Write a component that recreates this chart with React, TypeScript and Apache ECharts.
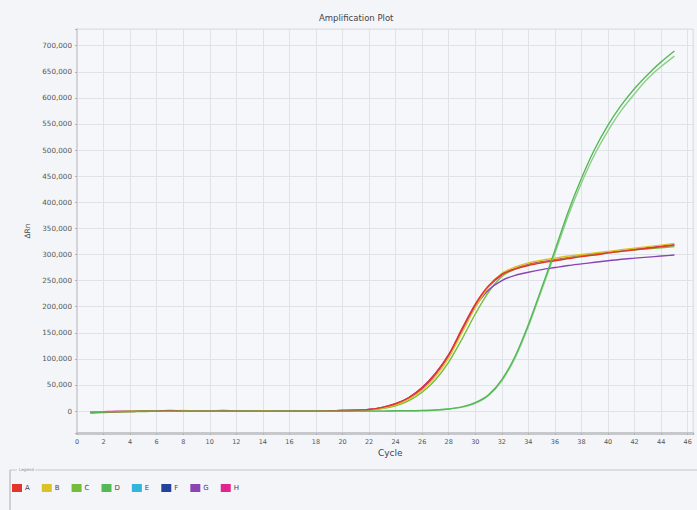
import React, { useEffect, useRef } from "react";
import * as echarts from "echarts";

const cycles = [1,2,3,4,5,6,7,8,9,10,11,12,13,14,15,16,17,18,19,20,21,22,23,24,25,26,27,28,29,30,31,32,33,34,35,36,37,38,39,40,41,42,43,44,45];

const seriesNames = ["A", "B", "C", "D", "E", "F", "G", "H"];
const seriesColors = ["#e4352b", "#dcc228", "#74bd3a", "#55b856", "#33b4dc", "#23429c", "#8a44b4", "#e0268e"];

const valuesA = [-3000,-2000,-1000,-1000,0,0,1000,0,0,0,0,0,0,0,0,0,0,0,500,1000,1500,3000,7000,14000,26000,45000,72000,108000,158000,205000,240000,262000,272000,279000,284000,288000,292000,296000,299000,303000,306000,309000,312000,315000,318000];
const valuesB = [-2000,-1000,-1000,0,0,0,0,1000,0,0,0,0,0,500,0,0,0,0,500,1000,1500,2500,6000,12000,23000,40000,66000,102000,150000,198000,238000,264000,276000,284000,289000,293000,297000,300000,303000,306000,309000,312000,315000,318000,321000];
const valuesC = [-4000,-3000,-2000,-1000,-1000,0,0,0,0,0,0,0,0,0,0,0,0,0,0,500,1000,2000,5000,10000,20000,36000,60000,94000,138000,186000,228000,258000,272000,280000,285000,289000,293000,297000,300000,303000,306000,309000,311000,313000,315000];
const valuesD = [-3000,-2000,-1000,-1000,0,0,0,0,0,0,0,0,0,0,0,0,0,0,0,0,0,0,0,500,500,1000,2000,4000,8000,16000,31000,60000,105000,166000,236000,308000,382000,446000,502000,548000,586000,618000,645000,669000,690000];
const valuesD2 = [-2000,-2000,-1000,0,0,0,0,0,0,0,0,0,0,0,0,0,0,0,0,0,0,0,0,0,500,1000,2000,4000,7500,15000,30000,58000,102000,162000,232000,302000,374000,437000,492000,537000,576000,608000,637000,660000,680000];
const valuesE: number[] = [];
const valuesF: number[] = [];
const valuesG = [-2000,-1000,-1000,0,0,0,0,0,0,0,1000,0,0,0,0,-500,0,0,500,1000,1500,3000,7000,14000,26000,45000,72000,108000,156000,200000,232000,250000,260000,266000,271000,275000,279000,282000,285000,288000,291000,293000,295000,297000,299000];
const valuesH = [-2000,-1000,0,0,0,0,0,0,0,0,0,0,0,0,0,0,0,0,500,1000,1500,3000,6500,13000,25000,43000,70000,106000,154000,202000,238000,261000,273000,281000,286000,290000,294000,298000,301000,304000,307000,310000,313000,316000,319000];

const xTickLabels = ["0","2","4","6","8","10","12","14","16","18","20","22","24","26","28","30","32","34","36","38","40","42","44","46"];
const yTickLabels = ["0","50,000","100,000","150,000","200,000","250,000","300,000","350,000","400,000","450,000","500,000","550,000","600,000","650,000","700,000"];

function pairs(vals: number[]) {
  return vals.map((v, i) => [cycles[i], v]);
}

export default function App() {
  const ref = useRef<HTMLDivElement>(null);
  useEffect(() => {
    if (!ref.current) return;
    const chart = echarts.init(ref.current, null, { renderer: "svg" });
    const mk = (name: string, vals: number[], color: string, z: number) => ({
      name,
      type: "line",
      data: pairs(vals),
      showSymbol: false,
      smooth: 0.3,
      z,
      lineStyle: { width: 1.4, color },
      itemStyle: { color },
    });
    const xLabelSet = new Set(xTickLabels);
    const yLabelSet = new Set(yTickLabels);
    chart.setOption({
      animation: false,
      backgroundColor: "#f4f5f9",
      color: seriesColors,
      grid: { left: 77, right: 4, top: 29, bottom: 77, show: true, backgroundColor: "#f6f7fa", borderColor: "#dcdfe5", borderWidth: 1 },
      xAxis: {
        type: "value",
        min: 0,
        max: 46.4,
        interval: 2,
        axisLine: { show: true, onZero: false, lineStyle: { color: "#c6c8cc", width: 3 } },
        axisTick: { show: true, length: 2, lineStyle: { color: "#b0b2b6" } },
        axisLabel: {
          fontSize: 6.5,
          color: "#555",
          margin: 5,
          fontFamily: "DejaVu Sans",
          formatter: (v: number) => (xLabelSet.has(String(v)) ? String(v) : ""),
        },
        splitLine: { show: true, lineStyle: { color: "#e0e2e8", width: 1 } },
      },
      yAxis: {
        type: "value",
        min: -42000,
        max: 732000,
        splitNumber: 15,
        axisLine: { show: true, lineStyle: { color: "#d2d4d8", width: 2 } },
        axisTick: { show: true, length: 2, lineStyle: { color: "#b0b2b6" } },
        axisLabel: {
          fontSize: 7.2,
          color: "#555",
          margin: 5,
          fontFamily: "DejaVu Sans",
          formatter: (v: number) => {
            const s = Math.round(v).toLocaleString("en-US");
            return yLabelSet.has(s) && Math.abs(v - Math.round(v / 50000) * 50000) < 1 ? s : "";
          },
        },
        splitLine: { show: true, lineStyle: { color: "#e0e2e8", width: 1 } },
        name: "ΔRn",
        nameLocation: "middle",
        nameGap: 46,
        nameTextStyle: { fontSize: 7.5, color: "#444", fontFamily: "DejaVu Sans" },
      },
      legend: {
        data: seriesNames,
        left: 7,
        top: 479,
        icon: "rect",
        itemWidth: 10,
        itemHeight: 8,
        itemGap: 12,
        textStyle: { fontSize: 7, color: "#444", fontFamily: "DejaVu Sans", padding: [0, 0, 0, -2] },
        selectedMode: false,
      },
      graphic: [
        { type: "text", left: 319, top: 13, style: { text: "Amplification Plot", fontSize: 8.5, fill: "#444", fontFamily: "DejaVu Sans" } },
        { type: "text", left: 378, top: 448, style: { text: "Cycle", fontSize: 9, fill: "#444", fontFamily: "DejaVu Sans" } },
        { type: "line", shape: { x1: 10, y1: 470, x2: 697, y2: 470 }, style: { stroke: "#c4c6ca", lineWidth: 1 } },
        { type: "line", shape: { x1: 10, y1: 470, x2: 10, y2: 510 }, style: { stroke: "#a8aaae", lineWidth: 1 } },
        { type: "rect", shape: { x: 17, y: 466, width: 18, height: 7 }, style: { fill: "#f4f5f9" } },
        { type: "text", left: 19, top: 467, style: { text: "Legend", fontSize: 4, fill: "#888", fontFamily: "DejaVu Sans" } },
      ],
      series: [
        mk("E", valuesE, seriesColors[4], 2),
        mk("F", valuesF, seriesColors[5], 2),
        mk("H", valuesH, seriesColors[7], 2),
        mk("C", valuesC, seriesColors[2], 3),
        mk("G", valuesG, seriesColors[6], 4),
        mk("B", valuesB, seriesColors[1], 5),
        mk("A", valuesA, seriesColors[0], 6),
        { ...mk("D2", valuesD2, "#8ccf86", 3) },
        mk("D", valuesD, seriesColors[3], 7),
      ],
    });
    return () => chart.dispose();
  }, []);
  return <div ref={ref} style={{ position: "fixed", left: 0, top: 0, width: 697, height: 510 }} />;
}
